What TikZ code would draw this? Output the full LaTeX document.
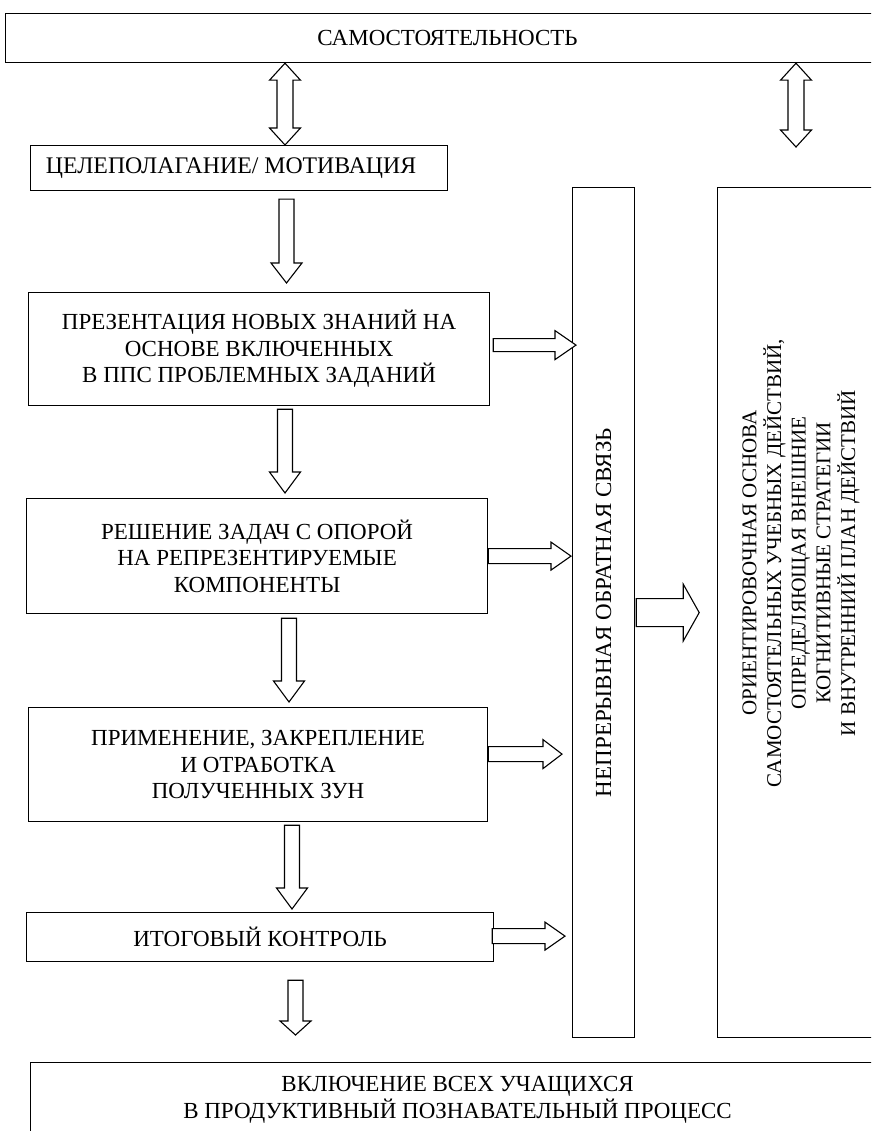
\documentclass[tikz,border=0pt]{standalone}
\usepackage{fontspec}
\setmainfont{Liberation Serif}
\usetikzlibrary{calc}
\tikzset{
  box/.style={draw, line width=1.2pt, inner sep=0pt, anchor=north west,
    font=\fontsize{23}{26.5}\selectfont, align=center},
  vtext/.style={rotate=90, inner sep=0pt, align=center},
  arrowline/.style={draw, line width=1.1pt, line join=miter, fill=white},
  barrow/.style n args={3}{to path={
    ($(\tikztotarget)!#3!(\tikztostart)$) coordinate (bh)
    ($(\tikztostart)!#1!90:(\tikztotarget)$)
    -- ($(bh)!#1!-90:(\tikztostart)$)
    -- ($(bh)!#2!-90:(\tikztostart)$)
    -- (\tikztotarget)
    -- ($(bh)!#2!90:(\tikztostart)$)
    -- ($(bh)!#1!90:(\tikztostart)$)
    -- ($(\tikztostart)!#1!-90:(\tikztotarget)$)
    -- cycle}},
  dbarrow/.style n args={3}{to path={
    ($(\tikztostart)!#3!(\tikztotarget)$) coordinate (ha)
    ($(\tikztotarget)!#3!(\tikztostart)$) coordinate (hb)
    (\tikztostart)
    -- ($(ha)!#2!90:(\tikztotarget)$)
    -- ($(ha)!#1!90:(\tikztotarget)$)
    -- ($(hb)!#1!-90:(\tikztostart)$)
    -- ($(hb)!#2!-90:(\tikztostart)$)
    -- (\tikztotarget)
    -- ($(hb)!#2!90:(\tikztostart)$)
    -- ($(hb)!#1!90:(\tikztostart)$)
    -- ($(ha)!#1!-90:(\tikztotarget)$)
    -- ($(ha)!#2!-90:(\tikztotarget)$)
    -- cycle}},
}
\begin{document}
\begin{tikzpicture}[x=1pt,y=-1pt]
\clip (0,0) rectangle (871,1131);
\fill[white] (0,0) rectangle (871,1131);

% boxes
\node[box, minimum width=884pt, minimum height=49pt] (sam) at (5,13) {САМОСТОЯТЕЛЬНОСТЬ};
\node[box, minimum width=417pt, minimum height=45pt, font=\fontsize{23.8}{27}\selectfont] (cel) at (30,145)
  {ЦЕЛЕПОЛАГАНИЕ/ МОТИВАЦИЯ\hspace*{16pt}};
\node[box, minimum width=461pt, minimum height=113pt] (prez) at (28,292)
  {ПРЕЗЕНТАЦИЯ НОВЫХ ЗНАНИЙ НА\\ОСНОВЕ ВКЛЮЧЕННЫХ\\В ППС ПРОБЛЕМНЫХ ЗАДАНИЙ};
\node[box, minimum width=461pt, minimum height=115pt] (resh) at (26,498)
  {РЕШЕНИЕ ЗАДАЧ С ОПОРОЙ\\НА РЕПРЕЗЕНТИРУЕМЫЕ\\КОМПОНЕНТЫ};
\node[box, minimum width=459pt, minimum height=114pt] (prim) at (28,707)
  {ПРИМЕНЕНИЕ, ЗАКРЕПЛЕНИЕ\\И ОТРАБОТКА\\ПОЛУЧЕННЫХ ЗУН};
\node[box, minimum width=467pt, minimum height=49pt] (itog) at (26,912) {ИТОГОВЫЙ КОНТРОЛЬ};
\node[box, minimum width=854pt, minimum height=74pt] (vkl) at (30,1062)
  {ВКЛЮЧЕНИЕ ВСЕХ УЧАЩИХСЯ\\В ПРОДУКТИВНЫЙ ПОЗНАВАТЕЛЬНЫЙ ПРОЦЕСС};
\node[box, minimum width=62pt, minimum height=850pt] (nos) at (572,187) {};
\node[vtext, font=\fontsize{23}{26.5}\selectfont] (nostext) at (nos.center) {НЕПРЕРЫВНАЯ ОБРАТНАЯ СВЯЗЬ};
\node[box, minimum width=170pt, minimum height=850pt] (ori) at (717,187) {};
\node[vtext, font=\fontsize{21}{24.7}\selectfont] (oritext) at (801,563)
  {ОРИЕНТИРОВОЧНАЯ ОСНОВА\\САМОСТОЯТЕЛЬНЫХ УЧЕБНЫХ ДЕЙСТВИЙ,\\ОПРЕДЕЛЯЮЩАЯ ВНЕШНИЕ\\КОГНИТИВНЫЕ СТРАТЕГИИ\\И ВНУТРЕННИЙ ПЛАН ДЕЙСТВИЙ};

% arrow columns
\coordinate (ax) at (285,0);
\coordinate (bx) at (796,0);
\coordinate (c1) at (286.5,0);
\coordinate (c2) at (285,0);
\coordinate (c3) at (289,0);
\coordinate (c4) at (292,0);
\coordinate (c5) at (295.5,0);

% double arrows
\path[arrowline] (sam.south -| ax) to[dbarrow={8pt}{15.5pt}{17pt}] (cel.north -| ax);
\path[arrowline] (sam.south -| bx) to[dbarrow={8pt}{15.5pt}{17pt}] ($(ori.north -| bx)+(0,-40)$);

% down arrows
\path[arrowline] ($(cel.south -| c1)+(0,8)$) to[barrow={7.5pt}{15.5pt}{20pt}] ($(prez.north -| c1)+(0,-9)$);
\path[arrowline] ($(prez.south -| c2)+(0,3)$) to[barrow={7.5pt}{15.5pt}{21pt}] ($(resh.north -| c2)+(0,-5)$);
\path[arrowline] ($(resh.south -| c3)+(0,4)$) to[barrow={7.5pt}{15.5pt}{21pt}] ($(prim.north -| c3)+(0,-5)$);
\path[arrowline] ($(prim.south -| c4)+(0,3)$) to[barrow={7.5pt}{15.5pt}{21pt}] ($(itog.north -| c4)+(0,-3)$);
\path[arrowline] ($(itog.south -| c5)+(0,18)$) to[barrow={7.5pt}{15.5pt}{14pt}] ($(vkl.north -| c5)+(0,-27)$);

% right arrows
\path[arrowline] ($(prez.east)+(3,-4)$) to[barrow={6.5pt}{14.5pt}{21pt}] ($(nos.west |- prez.east)+(4,-4)$);
\path[arrowline] (resh.east) to[barrow={7.5pt}{14pt}{20pt}] ($(nos.west |- resh.east)+(-1,0)$);
\path[arrowline] ($(prim.east)+(0,-10.5)$) to[barrow={7.5pt}{14.5pt}{19pt}] ($(nos.west |- prim.east)+(-10,-10.5)$);
\path[arrowline] ($(itog.east)+(-2,-1)$) to[barrow={7.5pt}{14pt}{20pt}] ($(nos.west |- itog.east)+(-7,-1)$);

% big arrow
\path[arrowline] ($(nos.east)+(1,0)$) to[barrow={14pt}{28.5pt}{16pt}] ($(nos.east)+(64,0)$);
\end{tikzpicture}
\end{document}
